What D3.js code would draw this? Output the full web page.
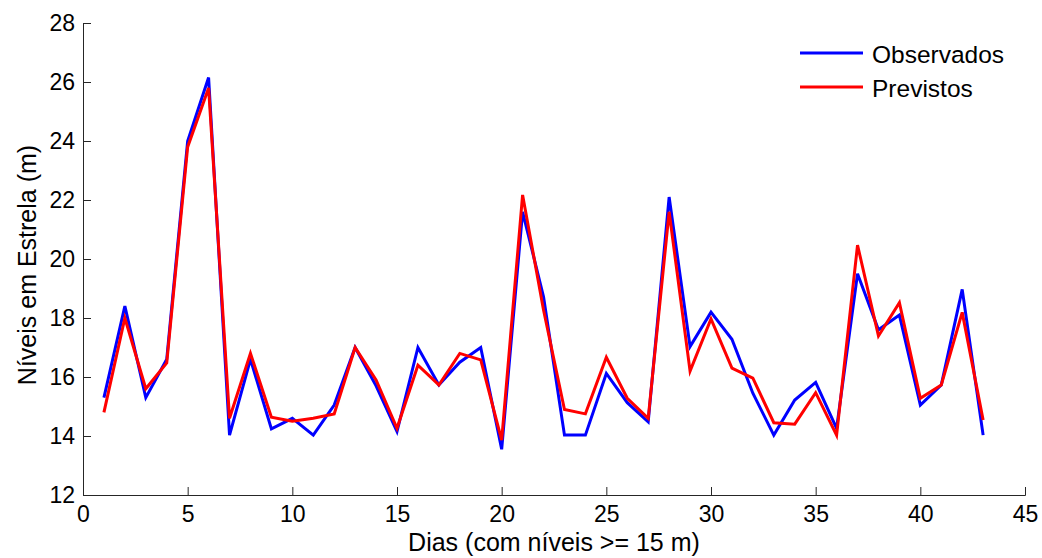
<!DOCTYPE html>
<style>
    body { margin: 0; background: #fff; }
    text { font-family: "Liberation Sans", Arial, sans-serif; fill: #000; }
</style>
<svg width="1042" height="558"></svg>
<script src="https://cdn.jsdelivr.net/npm/d3@7/dist/d3.min.js"></script>
<script>
    // dados
    var dias = d3.range(1, 44);
    var observados = [15.3, 18.4, 15.3, 16.6, 24.0, 26.15, 14.03, 16.6, 14.24, 14.6,
        14.03, 15.05, 17.0, 15.7, 14.15, 17.0, 15.73, 16.5, 17.0, 13.55,
        21.6, 18.72, 14.03, 14.03, 16.12, 15.13, 14.48, 22.1, 17.03, 18.2,
        17.28, 15.45, 14.03, 15.22, 15.82, 14.26, 19.5, 17.6, 18.1, 15.05,
        15.73, 18.97, 14.03];
    var previstos = [14.8, 18.0, 15.6, 16.48, 23.8, 25.8, 14.6, 16.8, 14.64, 14.5,
        14.6, 14.75, 17.0, 15.9, 14.26, 16.4, 15.73, 16.8, 16.58, 13.86,
        22.17, 18.27, 14.9, 14.75, 16.67, 15.28, 14.6, 21.6, 16.2, 17.97,
        16.3, 15.96, 14.45, 14.4, 15.47, 14.03, 20.47, 17.39, 18.52, 15.28,
        15.73, 18.19, 14.54];
    var xTicks = [0, 5, 10, 15, 20, 25, 30, 35, 40, 45];
    var yTicks = [12, 14, 16, 18, 20, 22, 24, 26, 28];
    var series = [
        { name: "Observados", values: observados, color: "#0000ff" },
        { name: "Previstos", values: previstos, color: "#ff0000" }
    ];

    var svg = d3.select("svg"),
        margin = { top: 23, right: 17, bottom: 63, left: 83 },
        width = +svg.attr("width") - margin.left - margin.right,
        height = +svg.attr("height") - margin.top - margin.bottom,
        g = svg.append("g").attr("transform", "translate(" + margin.left + "," + margin.top + ")");

    var x = d3.scaleLinear().domain([0, 45]).range([0, width]);
    var y = d3.scaleLinear().domain([12, 28]).range([height, 0]);

    // eixos (ticks para dentro, estilo MATLAB)
    var xAxis = g.append("g")
        .attr("transform", "translate(0," + height + ")")
        .call(d3.axisBottom(x).tickValues(xTicks).tickSize(-8).tickPadding(11));
    var yAxis = g.append("g")
        .call(d3.axisLeft(y).tickValues(yTicks).tickSize(-8).tickPadding(8));

    [xAxis, yAxis].forEach(function (a) {
        a.selectAll(".domain").attr("stroke", "#262626").attr("stroke-width", 1);
        a.selectAll(".tick line").attr("stroke", "#262626");
        a.selectAll("text").style("font-size", "23px").attr("fill", "#000");
    });

    var line = d3.line()
        .x(function (d, i) { return x(dias[i]); })
        .y(function (d) { return y(d); });

    g.selectAll(".serie")
        .data(series)
        .enter().append("path")
        .attr("class", "serie")
        .attr("fill", "none")
        .attr("stroke", function (d) { return d.color; })
        .attr("stroke-width", 3)
        .attr("d", function (d) { return line(d.values); });

    // rotulos
    svg.append("text")
        .attr("x", margin.left + width / 2)
        .attr("y", 551)
        .attr("text-anchor", "middle")
        .style("font-size", "25px")
        .text("Dias (com níveis >= 15 m)");

    svg.append("text")
        .attr("transform", "translate(36," + (margin.top + height / 2 + 6) + ") rotate(-90)")
        .attr("text-anchor", "middle")
        .style("font-size", "25px")
        .text("Níveis em Estrela (m)");

    // legenda
    var legend = svg.append("g").attr("transform", "translate(800,53)");
    var item = legend.selectAll("g")
        .data(series)
        .enter().append("g")
        .attr("transform", function (d, i) { return "translate(0," + i * 34 + ")"; });
    item.append("line")
        .attr("x1", 0).attr("x2", 63)
        .attr("stroke", function (d) { return d.color; })
        .attr("stroke-width", 3);
    item.append("text")
        .attr("x", 72).attr("y", 10)
        .style("font-size", "24.5px")
        .text(function (d) { return d.name; });
</script>
